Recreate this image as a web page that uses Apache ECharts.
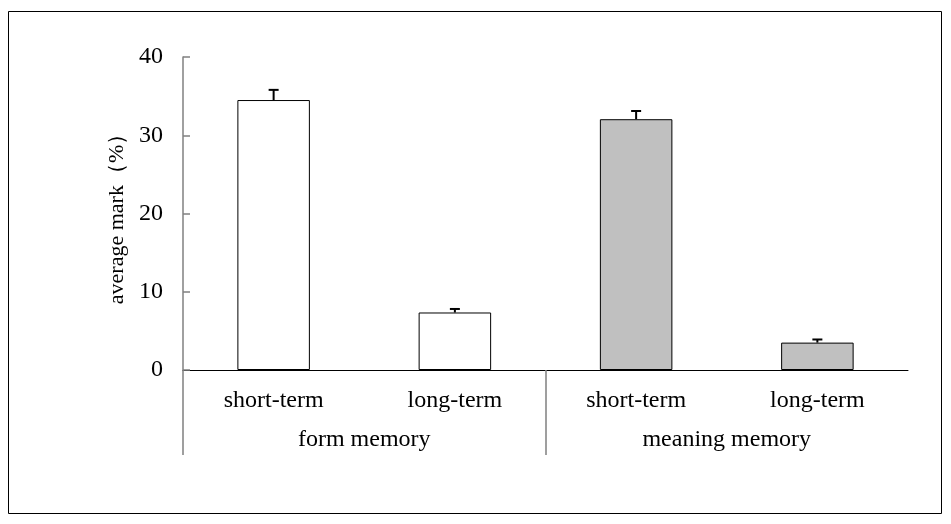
<!DOCTYPE html>
<html><head><meta charset="utf-8">
<script src="https://cdn.jsdelivr.net/npm/echarts@6/dist/echarts.min.js"></script>
<style>html,body{margin:0;padding:0;background:#fff}#c{width:951px;height:524px}</style>
</head><body><div id="c"></div>
<script>
const categories = ['short-term', 'long-term', 'short-term', 'long-term'];
const groups = ['form memory', 'meaning memory'];
const values = [34.5, 7.35, 32.05, 3.5];
const errors = [1.3, 0.45, 1.05, 0.4];
const yTicks = [0, 10, 20, 30, 40];

const font = 'Liberation Serif, Times New Roman, serif';
const fills = ['#ffffff', '#ffffff', '#c0c0c0', '#c0c0c0'];

const chart = echarts.init(document.getElementById('c'), null, {renderer: 'canvas'});
chart.setOption({
  animation: false,
  backgroundColor: '#fff',
  graphic: [{type: 'rect', shape: {x: 8.5, y: 11.5, width: 933, height: 502}, style: {fill: 'none', stroke: '#000', lineWidth: 1}, silent: true}],
  grid: {left: 183, right: 43, top: 57, bottom: 154, containLabel: false},
  xAxis: [{
    type: 'category', data: categories, position: 'bottom',
    axisLine: {lineStyle: {color: '#000', width: 1}},
    axisTick: {show: false},
    axisLabel: {color: '#000', fontFamily: font, fontSize: 24, margin: 19, interval: 0}
  }, {
    type: 'value', min: 0, max: groups.length, position: 'bottom',
    axisLine: {show: false}, splitLine: {show: false},
    axisTick: {show: true, length: 85, lineStyle: {color: '#808080', width: 1.5}, customValues: [0, 1]},
    axisLabel: {color: '#000', fontFamily: font, fontSize: 24, margin: 58,
      customValues: groups.map((g, i) => i + 0.5),
      formatter: v => groups[Math.floor(v)]}
  }],
  yAxis: {
    type: 'value', min: yTicks[0], max: yTicks[yTicks.length - 1], interval: 10,
    name: 'average mark（%）', nameLocation: 'middle', nameGap: 52, nameRotate: 90,
    nameTextStyle: {color: '#000', fontFamily: font, fontSize: 22},
    axisLine: {show: true, lineStyle: {color: '#808080', width: 1.5}},
    axisTick: {show: true, inside: true, length: 7, lineStyle: {color: '#808080', width: 1.5}},
    splitLine: {show: false},
    axisLabel: {color: '#000', fontFamily: font, fontSize: 24, margin: 20}
  },
  series: [{
    type: 'bar', xAxisIndex: 0, barWidth: '40%',
    data: values.map((v, i) => ({value: v, itemStyle: {color: fills[i]}})),
    itemStyle: {borderColor: '#000', borderWidth: 1}
  }, {
    type: 'custom', xAxisIndex: 0,
    data: values.map((v, i) => [i, v, v + errors[i]]),
    renderItem: function (params, api) {
      const p0 = api.coord([api.value(0), api.value(1)]);
      const p1 = api.coord([api.value(0), api.value(2)]);
      const hw = 5;
      return {type: 'group', children: [
        {type: 'line', shape: {x1: p0[0], y1: p0[1], x2: p1[0], y2: p1[1]}, style: {stroke: '#000', lineWidth: 2}},
        {type: 'line', shape: {x1: p1[0] - hw, y1: p1[1], x2: p1[0] + hw, y2: p1[1]}, style: {stroke: '#000', lineWidth: 2}}
      ]};
    },
    z: 5
  }]
});
</script></body></html>
